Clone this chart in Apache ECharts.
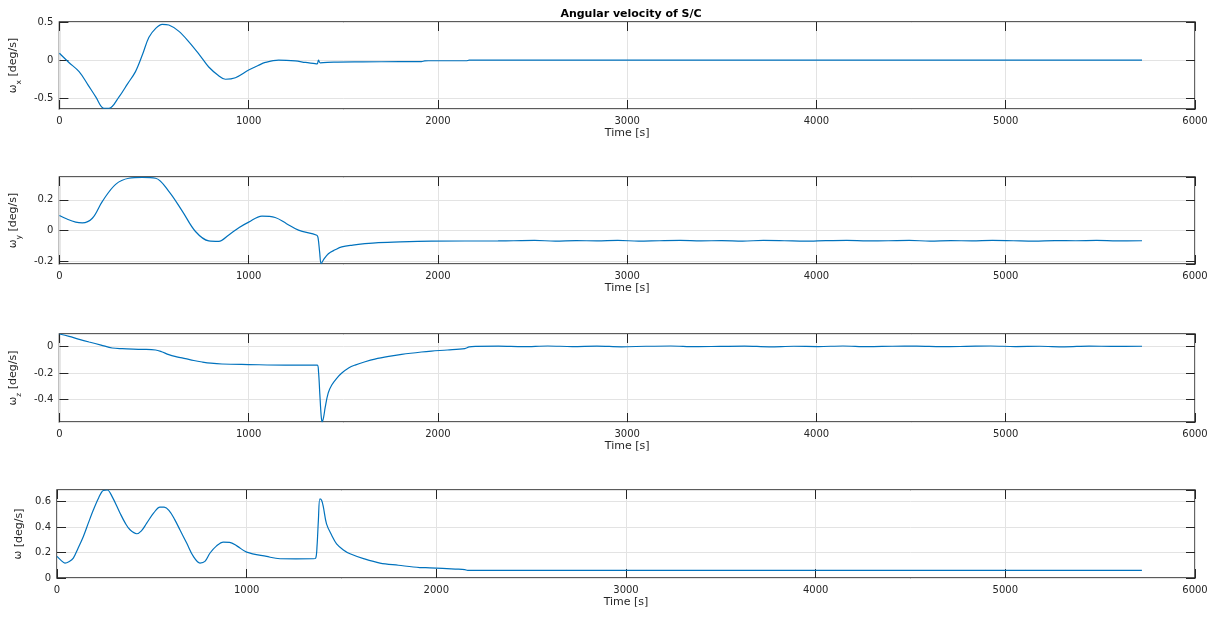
<!DOCTYPE html>
<html>
<head>
<meta charset="utf-8">
<title>Angular velocity of S/C</title>
<script src="https://cdn.jsdelivr.net/npm/echarts@6/dist/echarts.min.js"></script>
<style>
  html, body { margin: 0; padding: 0; background: #fff; }
  #chart { width: 1217px; height: 617px; }
</style>
</head>
<body>
<div id="chart"></div>
<script>
// time axis ticks [s]
const xTicks = [0, 1000, 2000, 3000, 4000, 5000, 6000];

// omega_x [deg/s]
const timeX = [0, 50, 104, 150, 192, 235, 262, 315, 360, 402, 440, 473, 510, 543, 578, 630, 684, 740, 789, 840, 877, 930,
  1000, 1050, 1088, 1158, 1246, 1300, 1351, 1362, 1369, 1378, 1450, 1600, 1800, 1913, 1930, 1950, 2150, 2165, 2500, 3500, 4500, 5720];
const omegaX = [0.09, -0.03, -0.15, -0.32, -0.48, -0.63, -0.63, -0.48, -0.31, -0.15, 0.08, 0.30, 0.42, 0.47, 0.46, 0.38, 0.24, 0.07, -0.09, -0.2, -0.25, -0.23,
  -0.13, -0.07, -0.03, 0.0, -0.01, -0.03, -0.045, -0.05, 0.0, -0.035, -0.025, -0.022, -0.02, -0.018, -0.01, -0.008, -0.008, 0.0, 0.0, 0.0, 0.0, 0.0];

// omega_y [deg/s]
const timeY = [0, 40, 86, 121, 174, 227, 297, 367, 438, 508, 578, 650, 719, 789, 842, 895, 950, 1000, 1070, 1140, 1200, 1263,
  1360, 1367, 1375, 1383, 1395, 1421, 1457, 1492, 1550, 1614, 1685, 1800, 1966, 2318,
  2400, 2510, 2620, 2730, 2840, 2950, 3060, 3170, 3280, 3390, 3500, 3610, 3720, 3830, 3940, 4050, 4160, 4270, 4380, 4490,
  4600, 4710, 4820, 4930, 5040, 5150, 5260, 5370, 5480, 5590, 5720];
const omegaY = [0.098, 0.075, 0.055, 0.05, 0.08, 0.19, 0.30, 0.34, 0.345, 0.34, 0.255, 0.125, -0.006, -0.067, -0.07, -0.028, 0.02, 0.055, 0.094, 0.085, 0.045, 0.003,
  -0.03, -0.05, -0.14, -0.215, -0.19, -0.15, -0.125, -0.106, -0.094, -0.085, -0.078, -0.073, -0.069, -0.067,
  -0.066, -0.064, -0.068, -0.065, -0.067, -0.063, -0.069, -0.066, -0.064, -0.067, -0.065, -0.068, -0.064, -0.066, -0.069, -0.065, -0.063, -0.067, -0.066, -0.064,
  -0.068, -0.065, -0.067, -0.064, -0.066, -0.068, -0.065, -0.066, -0.064, -0.067, -0.066];

// omega_z [deg/s]
const timeZ = [0, 51, 100, 157, 220, 279, 332, 438, 508, 540, 578, 620, 666, 710, 754, 800, 859, 1000, 1193, 1362, 1369, 1376, 1383, 1388,
  1396, 1404, 1420, 1439, 1465, 1492, 1530, 1562, 1615, 1667, 1740, 1808, 1913, 1966, 2050, 2142, 2165, 2200,
  2320, 2450, 2580, 2710, 2840, 2970, 3100, 3230, 3360, 3490, 3620, 3750, 3880, 4010, 4140, 4270, 4400, 4530, 4660, 4790,
  4920, 5050, 5180, 5310, 5440, 5570, 5720];
const omegaZ = [0.093, 0.075, 0.055, 0.033, 0.01, -0.012, -0.017, -0.022, -0.027, -0.04, -0.062, -0.078, -0.092, -0.106, -0.117, -0.126, -0.132, -0.136, -0.14, -0.14, -0.19, -0.36, -0.52, -0.567,
  -0.53, -0.46, -0.35, -0.29, -0.24, -0.2, -0.16, -0.14, -0.115, -0.095, -0.075, -0.06, -0.042, -0.035, -0.027, -0.016, -0.004, 0.0,
  0.002, -0.002, 0.003, -0.001, 0.002, -0.003, 0.001, 0.003, -0.002, 0.0, 0.002, -0.003, 0.001, -0.001, 0.003, -0.002, 0.001, 0.002, -0.002, 0.0,
  0.003, -0.001, 0.001, -0.003, 0.002, 0.0, 0.001];

// |omega| [deg/s]
const timeMag = [0, 20, 42, 65, 86, 110, 139, 165, 192, 220, 244, 265, 290, 332, 360, 385, 420, 445, 473, 510, 543, 565, 590, 620, 648, 685,
  719, 754, 780, 807, 840, 877, 910, 950, 1000, 1105, 1176, 1260, 1351, 1364, 1371, 1378, 1386, 1395, 1404, 1421, 1450, 1474, 1510, 1545,
  1620, 1703, 1800, 1913, 1966, 2100, 2150, 2165, 3000, 4000, 5000, 5720];
const omegaMag = [0.169, 0.14, 0.117, 0.13, 0.156, 0.23, 0.326, 0.43, 0.535, 0.63, 0.686, 0.69, 0.64, 0.51, 0.43, 0.378, 0.347, 0.37, 0.43, 0.51, 0.556, 0.555, 0.53, 0.46, 0.378, 0.27,
  0.169, 0.117, 0.13, 0.196, 0.25, 0.282, 0.28, 0.25, 0.203, 0.169, 0.151, 0.15, 0.151, 0.156, 0.25, 0.45, 0.62, 0.61, 0.56, 0.425, 0.33, 0.268, 0.22, 0.19,
  0.15, 0.117, 0.1, 0.082, 0.08, 0.07, 0.066, 0.06, 0.06, 0.06, 0.06, 0.06];

// y axis ranges per panel
const yMin = [-0.64, -0.217, -0.567, 0];
const yMax = [0.5, 0.348, 0.093, 0.69];
const yStep = [0.5, 0.2, 0.2, 0.2];
const yNames = ['{w|ω}{s|x}{t| [deg/s]}', '{w|ω}{s|y}{t| [deg/s]}', '{w|ω}{s|z}{t| [deg/s]}', '{w|ω}{t| [deg/s]}'];
const series = [[timeX, omegaX], [timeY, omegaY], [timeZ, omegaZ], [timeMag, omegaMag]];

const gridTops = [22, 177, 334, 490];
const gridHeights = [87, 87, 88, 88];
const nameGaps = [32, 32, 32, 25];

const ink = '#262626';
const gridColor = '#e3e3e3';
const font = 'DejaVu Sans';

const isNice = (v, step) => Math.abs(v / step - Math.round(v / step)) < 1e-6;

const grids = [], xAxes = [], yAxes = [], lines = [];
series.forEach(([t, v], i) => {
  grids.push({
    left: 57, right: 22, top: gridTops[i], height: gridHeights[i],
    show: true, borderColor: ink, borderWidth: 1.4, backgroundColor: '#fff'
  });
  const xBase = {
    type: 'value', gridIndex: i, min: xTicks[0], max: xTicks[xTicks.length - 1],
    interval: xTicks[1] - xTicks[0],
    axisLine: { show: false, onZero: false },
    axisTick: { show: true, inside: true, length: 9, lineStyle: { color: ink } }
  };
  xAxes.push(Object.assign({}, xBase, {
    position: 'bottom',
    name: 'Time [s]', nameLocation: 'middle', nameGap: 19,
    nameTextStyle: { color: ink, fontSize: 11, fontFamily: font },
    axisLabel: { color: ink, fontSize: 10, fontFamily: font, margin: 7, formatter: (val) => String(val) },
    splitLine: { show: true, lineStyle: { color: gridColor, width: 1 } }
  }));
  xAxes.push(Object.assign({}, xBase, {
    position: 'top', axisLabel: { show: false }, splitLine: { show: false }
  }));
  const yBase = {
    type: 'value', gridIndex: i, min: yMin[i], max: yMax[i],
    minInterval: yStep[i], maxInterval: yStep[i],
    axisLine: { show: false, onZero: false },
    axisTick: { show: true, inside: true, length: 9, lineStyle: { color: ink } }
  };
  yAxes.push(Object.assign({}, yBase, {
    position: 'left',
    name: yNames[i], nameLocation: 'middle', nameGap: nameGaps[i], nameRotate: 90,
    nameTextStyle: {
      color: ink, fontFamily: font,
      rich: {
        w: { fontSize: 10.5, fontFamily: font, color: ink, lineHeight: 13, verticalAlign: 'top' },
        s: { fontSize: 7.5, fontFamily: font, color: ink, lineHeight: 8, padding: [7, 0, 0, 0], verticalAlign: 'top' },
        t: { fontSize: 11, fontFamily: font, color: ink, lineHeight: 13, verticalAlign: 'top' }
      }
    },
    axisLabel: {
      color: ink, fontSize: 10, fontFamily: font, margin: 6,
      showMinLabel: isNice(yMin[i], yStep[i]), showMaxLabel: isNice(yMax[i], yStep[i])
    },
    splitLine: { show: true, lineStyle: { color: gridColor, width: 1 } }
  }));
  yAxes.push(Object.assign({}, yBase, {
    position: 'right', axisLabel: { show: false }, splitLine: { show: false }
  }));
  lines.push({
    type: 'line', xAxisIndex: 2 * i, yAxisIndex: 2 * i,
    data: t.map((tt, k) => [tt, v[k]]),
    showSymbol: false, smooth: 0.35,
    lineStyle: { color: '#0072BD', width: 1.2 },
    z: 3
  });
});

const chart = echarts.init(document.getElementById('chart'));
chart.setOption({
  animation: false,
  backgroundColor: '#fff',
  title: {
    text: 'Angular velocity of S/C',
    left: 626, top: 4, textAlign: 'center',
    textStyle: { fontSize: 11, fontWeight: 'bold', color: '#000', fontFamily: font }
  },
  grid: grids,
  xAxis: xAxes,
  yAxis: yAxes,
  series: lines
});
</script>
</body>
</html>
